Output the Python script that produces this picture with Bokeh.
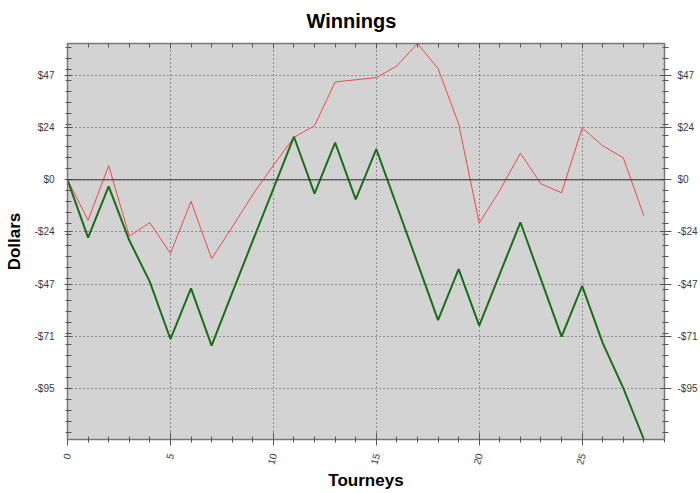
from bokeh.plotting import figure
from bokeh.models import LinearAxis, FixedTicker, Span, Range1d, CustomJSTickFormatter
from bokeh.embed import file_html
from bokeh.resources import INLINE

tourneys = list(range(29))
green_vals = [0, -26.3, -3.0, -27.5, -46.4, -72.4, -49.4, -75.4, -51.4, -27.7,
              -4.1, 19.6, -6.3, 16.9, -8.9, 14.0, -11.9, -37.8, -63.8, -40.6,
              -66.3, -42.8, -19.3, -45.3, -71.3, -48.2, -74.3, -94.7, -118.1]
red_vals = [0, -18.4, 6.5, -25.6, -19.5, -33.5, -9.8, -35.9, -21.5, -6.7,
            6.6, 19.3, 24.6, 44.5, 45.5, 46.5, 51.8, 62.0, 50.6, 25.4,
            -19.7, -4.8, 12.1, -1.8, -5.9, 23.6, 15.5, 10.0, -16.5]
y_ticks = [-94.8, -71.1, -47.4, -23.7, 0.0, 23.7, 47.4]
y_labels = ["-$95", "-$71", "-$47", "-$24", "$0", "$24", "$47"]
y_minor = list(range(-115, 65, 5))
x_ticks = [0, 5, 10, 15, 20, 25]
x_minor = list(range(0, 30))
x_start, x_end = 0, 29

FONT = "Liberation Sans"
AXIS_COLOR = "#777777"
LABEL_COLOR = "#3a3a3a"

y_lo, y_hi = min(green_vals), max(red_vals)
p = figure(width=700, height=493, output_backend="svg", toolbar_location=None,
           x_range=Range1d(x_start, x_end), y_range=Range1d(y_lo, y_hi),
           title="Winnings", x_axis_label="Tourneys", y_axis_label="Dollars",
           min_border_left=67, min_border_right=36, min_border_top=43, min_border_bottom=53)
p.background_fill_color = "#d3d3d3"
p.border_fill_color = "white"
p.outline_line_color = AXIS_COLOR

p.title.align = "left"
p.title.offset = 239
p.title.vertical_align = "top"
p.title.text_font = FONT
p.title.text_font_size = "20px"
p.title.text_font_style = "bold"
p.title.text_color = "black"
p.title.standoff = 19

yt = FixedTicker(ticks=y_ticks, minor_ticks=y_minor)
xt = FixedTicker(ticks=x_ticks, minor_ticks=x_minor)
overrides = dict(zip(y_ticks, y_labels))

def style_axis(ax):
    ax.axis_line_color = AXIS_COLOR
    ax.axis_line_width = 1.5
    ax.major_tick_line_color = "#555555"
    ax.minor_tick_line_color = "#555555"
    ax.major_label_text_font = FONT
    ax.major_label_text_font_size = "10px"
    ax.major_label_text_color = LABEL_COLOR
    ax.axis_label_text_font = FONT
    ax.axis_label_text_font_size = "17px"
    ax.axis_label_text_font_style = "bold"
    ax.axis_label_text_color = "black"

ly = p.yaxis[0]
ly.ticker = yt
ly.major_label_overrides = overrides
style_axis(ly)
ly.major_tick_out = 3
ly.major_tick_in = 5
ly.minor_tick_out = 2
ly.minor_tick_in = 4
ly.major_label_standoff = 10
ly.axis_label_standoff = 7

bx = p.xaxis[0]
bx.ticker = xt
style_axis(bx)
bx.major_tick_out = 6
bx.major_tick_in = 7
bx.minor_tick_out = 3
bx.minor_tick_in = 3
bx.major_label_orientation = 1.3
bx.major_label_standoff = 8
bx.axis_label_standoff = 2

ry = LinearAxis(ticker=yt, major_label_overrides=overrides)
style_axis(ry)
ry.major_tick_out = 7
ry.major_tick_in = 4
ry.minor_tick_out = 4
ry.minor_tick_in = 2
ry.major_label_standoff = 6
p.add_layout(ry, "right")

tx = LinearAxis(ticker=xt, formatter=CustomJSTickFormatter(code="return ''"))
style_axis(tx)
tx.major_label_standoff = 0
tx.major_tick_out = 0
tx.major_tick_in = 5
tx.minor_tick_out = 0
tx.minor_tick_in = 4
p.add_layout(tx, "above")

p.xgrid.ticker = xt
p.ygrid.ticker = yt
for g in (p.xgrid, p.ygrid):
    g.grid_line_color = "#444444"
    g.grid_line_dash = "1 3"
    g.grid_line_width = 1

p.add_layout(Span(location=0, dimension="width", line_color="#333333", line_width=1))

p.line(tourneys, red_vals, line_color="#ee4a4a", line_width=1)
p.line(tourneys, green_vals, line_color="#1a6e1a", line_width=2)

open("out.html", "w").write(file_html(p, INLINE))
